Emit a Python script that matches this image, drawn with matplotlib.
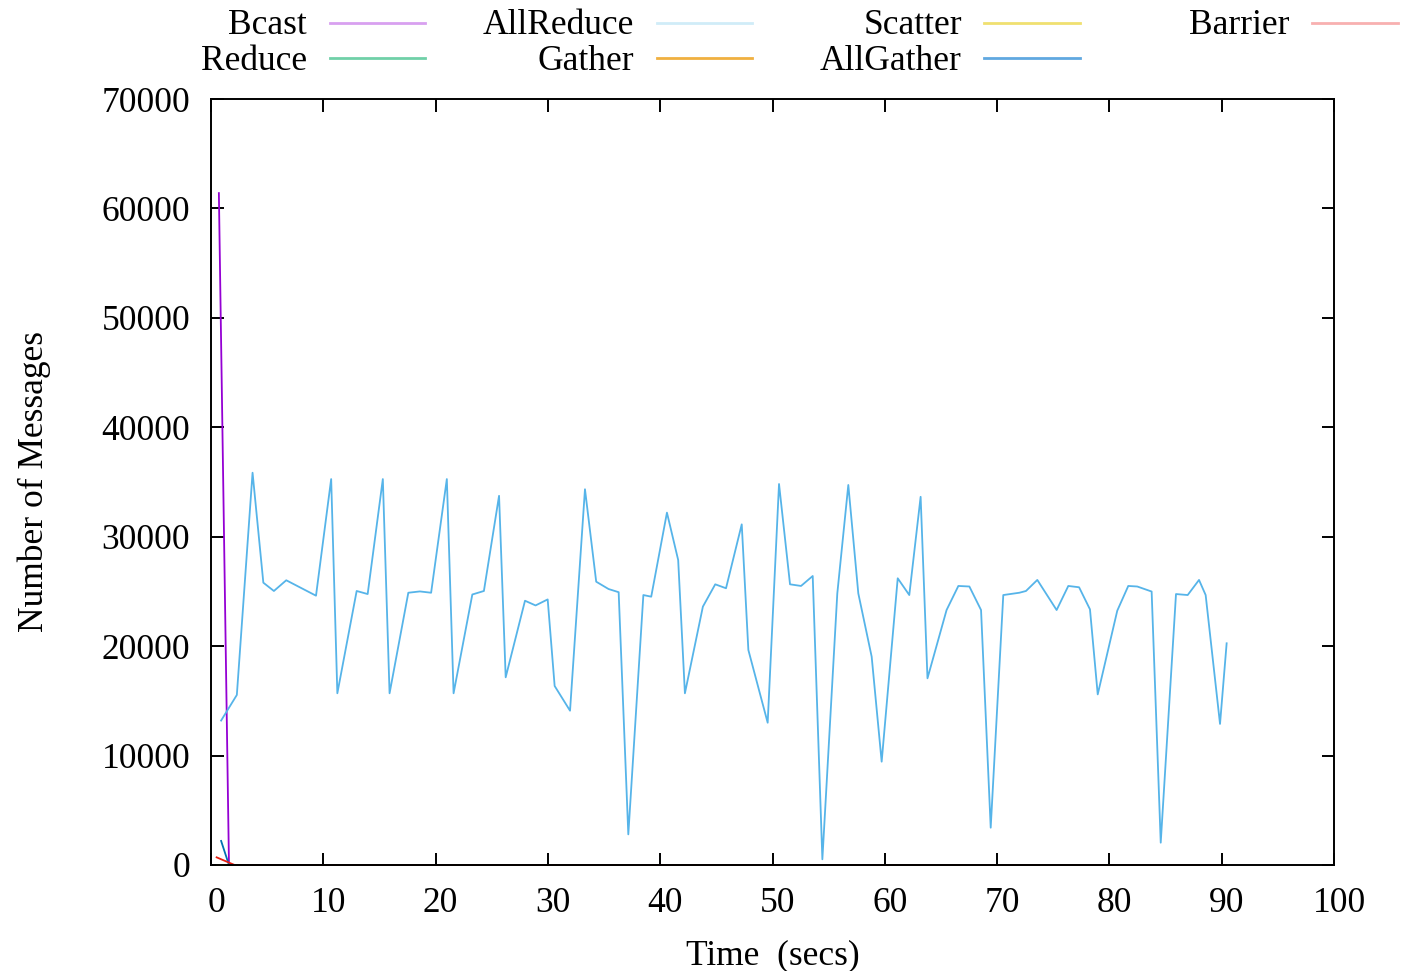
import matplotlib.pyplot as plt
from matplotlib.lines import Line2D
from matplotlib.transforms import ScaledTranslation

# message counts per collective over time
allreduce_t = [0.9, 2.3, 3.7, 4.66, 5.6, 6.7, 9.35, 10.7, 11.25, 12.97, 13.95, 15.3, 15.9,
               17.57, 18.6, 19.6, 21.0, 21.6, 23.27, 24.3, 25.65, 26.24, 27.96, 28.9, 29.98,
               30.6, 31.97, 33.3, 34.3, 35.4, 36.3, 37.16, 38.5, 39.2, 40.6, 41.6, 42.2,
               43.8, 44.9, 45.86, 47.26, 47.85, 49.57, 50.58, 51.56, 52.54, 53.58, 54.44,
               55.77, 56.75, 57.64, 58.83, 59.72, 61.15, 62.18, 63.19, 63.8, 65.5, 66.55,
               67.53, 68.57, 69.43, 70.55, 71.98, 72.57, 73.58, 75.3, 76.34, 77.3, 78.27,
               78.96, 80.7, 81.68, 82.48, 83.76, 84.57, 85.93, 86.97, 87.98, 88.57, 89.85,
               90.44]
allreduce_v = [13200, 15540, 35850, 25800, 25040, 26020, 24610, 35270, 15690, 25040, 24760,
               35270, 15690, 24880, 25000, 24880, 35270, 15690, 24720, 25040, 33740, 17150,
               24150, 23720, 24270, 16360, 14100, 34340, 25890, 25220, 24930, 2800, 24670,
               24520, 32200, 27870, 15690, 23610, 25650, 25290, 31130, 19650, 13000, 34820,
               25650, 25500, 26410, 520, 24820, 34730, 24820, 19040, 9440, 26200, 24670,
               33650, 17060, 23300, 25500, 25450, 23300, 3410, 24670, 24880, 25040, 26050,
               23300, 25500, 25380, 23360, 15590, 23240, 25500, 25450, 24990, 2040, 24760,
               24670, 26050, 24670, 12890, 20260]

bcast_t = [0.7, 1.6, 90.4]
bcast_v = [61400, 0, 0]
allgather_t = [0.9, 1.6, 90.4]
allgather_v = [2200, 0, 0]
barrier_t = [0.5, 2.1, 90.4]
barrier_v = [700, 0, 0]
reduce_t = [0.5, 90.4]
reduce_v = [0, 0]
gather_t = [0.5, 90.4]
gather_v = [0, 0]
scatter_t = [0.5, 90.4]
scatter_v = [0, 0]

names = ["Bcast", "Reduce", "AllReduce", "Gather", "Scatter", "AllGather", "Barrier"]
line_colors = ["#9400d3", "#009e73", "#56b4e9", "#e69f00", "#f0e442", "#0072b2", "#e51e10"]
key_colors = ["#d8a0f0", "#70d0a8", "#d0ecf8", "#f0b040", "#f0e070", "#60a8e0", "#f8b0b0"]

plt.rcParams["font.family"] = ["Liberation Serif", "DejaVu Serif"]
FS = 25.5

fig = plt.figure(figsize=(14.07, 9.71), dpi=100)
ax = fig.add_axes([0.14997, 0.10917, 0.79815, 0.78887])

series = {
    "Bcast": (bcast_t, bcast_v),
    "Reduce": (reduce_t, reduce_v),
    "AllReduce": (allreduce_t, allreduce_v),
    "Gather": (gather_t, gather_v),
    "Scatter": (scatter_t, scatter_v),
    "AllGather": (allgather_t, allgather_v),
    "Barrier": (barrier_t, barrier_v),
}
for name, color in zip(names, line_colors):
    t, v = series[name]
    ax.plot(t, v, color=color, lw=1.3, clip_on=False, zorder=2)

ax.set_xlim(0, 100)
ax.set_ylim(0, 70000)
ax.set_xticks(range(0, 101, 10))
ax.set_yticks(range(0, 70001, 10000))
ax.tick_params(direction="in", length=9, width=1.4, labelsize=FS, top=True, right=True)
ax.tick_params(axis="x", pad=16)
ax.tick_params(axis="y", pad=15)
# nudge x tick labels a little to the right
shift = ScaledTranslation(5 / 100, 0, fig.dpi_scale_trans)
for lbl in ax.get_xticklabels():
    lbl.set_transform(lbl.get_transform() + shift)
for s in ax.spines.values():
    s.set_linewidth(1.4)
    s.set_zorder(3)

ax.set_xlabel("Time  (secs)", fontsize=FS, labelpad=14)
ax.set_ylabel("Number of Messages", fontsize=FS, labelpad=36)

# key: 4 columns x 2 rows, text right-aligned then the sample line
W, H = 1407, 971
text_right = [307, 634, 962, 1290]
sample_x = [(330, 425), (657, 752), (984, 1080), (1312, 1398)]
row_y = [23, 58]
for i, (name, kc) in enumerate(zip(names, key_colors)):
    col, row = divmod(i, 2)
    y = 1 - row_y[row] / H
    fig.text(text_right[col] / W, y - 3 / H, name, ha="right", va="center", fontsize=FS)
    x0, x1 = sample_x[col]
    fig.add_artist(Line2D([x0 / W, x1 / W], [y, y], color=kc, lw=2,
                          transform=fig.transFigure))

fig.savefig("out.png", dpi=100)
